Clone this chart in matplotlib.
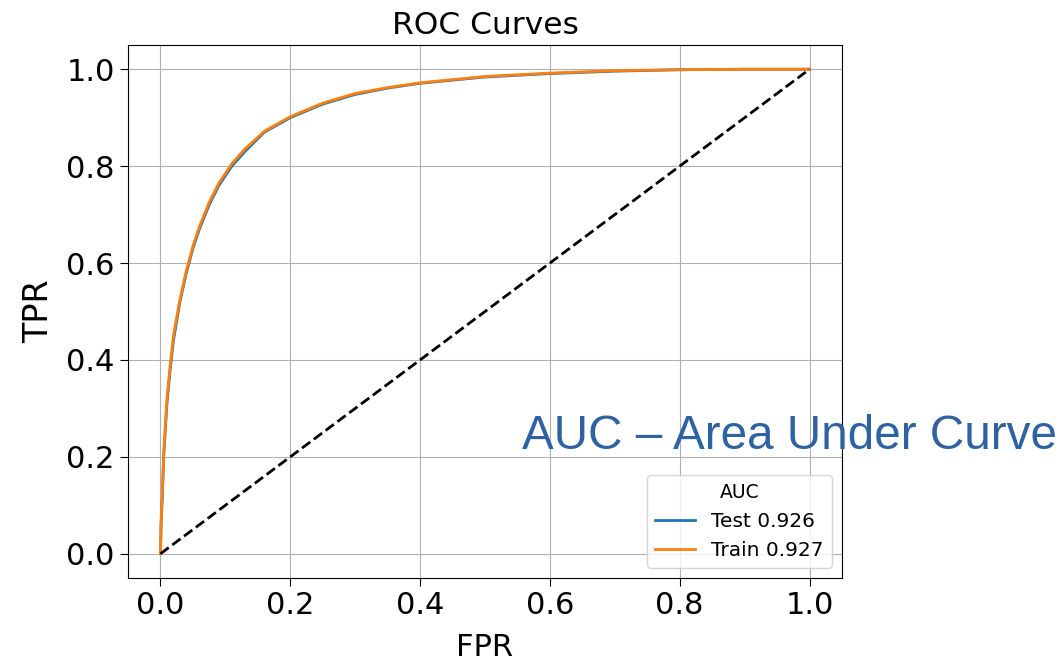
import matplotlib
matplotlib.use("Agg")
import matplotlib.pyplot as plt

# ROC curve points
fpr_test = [0, 0.001, 0.003, 0.005, 0.01, 0.015, 0.02, 0.03, 0.04, 0.05, 0.06, 0.075,
            0.09, 0.11, 0.13, 0.16, 0.2, 0.25, 0.3, 0.35, 0.4, 0.5, 0.6, 0.7, 0.8, 0.9, 1.0]
tpr_test = [0, 0.06, 0.12, 0.2, 0.31, 0.38, 0.44, 0.52, 0.58, 0.63, 0.67, 0.72,
            0.76, 0.80, 0.83, 0.87, 0.90, 0.928, 0.948, 0.961, 0.971, 0.984, 0.991, 0.996, 0.999, 1.0, 1.0]
fpr_train = [0, 0.001, 0.003, 0.005, 0.01, 0.015, 0.02, 0.03, 0.04, 0.05, 0.06, 0.075,
             0.09, 0.11, 0.13, 0.16, 0.2, 0.25, 0.3, 0.35, 0.4, 0.5, 0.6, 0.7, 0.8, 0.9, 1.0]
tpr_train = [0, 0.07, 0.13, 0.21, 0.32, 0.39, 0.45, 0.525, 0.585, 0.635, 0.675, 0.725,
             0.765, 0.805, 0.835, 0.872, 0.902, 0.93, 0.95, 0.962, 0.972, 0.985, 0.992, 0.997, 0.999, 1.0, 1.0]
labels = ["Test 0.926", "Train 0.927"]

fig = plt.figure(figsize=(10.64, 6.58), dpi=100)
ax = fig.add_axes([128 / 1064, 80 / 658, 714 / 1064, 533 / 658])

ax.plot(fpr_test, tpr_test, color="#1f77b4", lw=2, label=labels[0])
ax.plot(fpr_train, tpr_train, color="#ff7f0e", lw=2, label=labels[1])
ax.plot([0, 1], [0, 1], "k--", lw=2)

ax.grid(True)
ax.tick_params(labelsize=22, length=6)
ax.set_title("ROC Curves", fontsize=22.5, pad=8)
ax.set_xlabel("FPR", fontsize=22, labelpad=9)
ax.set_ylabel("TPR", fontsize=24, labelpad=8)

leg = ax.legend(title="AUC", loc="lower right", fontsize=14.5, title_fontsize=13.5)

fig.text(522 / 1064, (658 - 449) / 658, "AUC \u2013 Area Under Curve",
         fontsize=34.3, color="#2e62a0", family="Liberation Sans")

fig.savefig("out.png", dpi=100)
